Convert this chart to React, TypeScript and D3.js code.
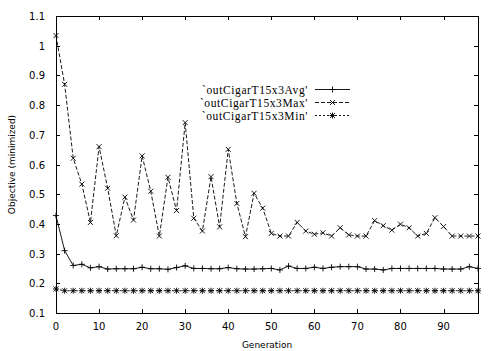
import { useEffect, useRef } from 'react';
import * as d3 from 'd3';

const generations = d3.range(0, 100, 2);

const avgValues = [
  0.428, 0.31, 0.26, 0.264, 0.252, 0.256, 0.248, 0.249, 0.249, 0.249,
  0.254, 0.249, 0.249, 0.247, 0.253, 0.259, 0.25, 0.25, 0.249, 0.249,
  0.253, 0.249, 0.248, 0.248, 0.249, 0.25, 0.245, 0.258, 0.25, 0.25,
  0.254, 0.25, 0.254, 0.256, 0.256, 0.256, 0.248, 0.248, 0.245, 0.25,
  0.25, 0.25, 0.25, 0.25, 0.25, 0.248, 0.248, 0.248, 0.256, 0.25,
];

const maxValues = [
  1.034, 0.87, 0.621, 0.534, 0.405, 0.66, 0.52, 0.36, 0.49, 0.413,
  0.629, 0.51, 0.359, 0.557, 0.445, 0.741, 0.419, 0.376, 0.559, 0.39,
  0.651, 0.469, 0.357, 0.503, 0.453, 0.368, 0.359, 0.359, 0.405, 0.376,
  0.365, 0.37, 0.359, 0.387, 0.363, 0.359, 0.359, 0.411, 0.394, 0.379,
  0.399, 0.387, 0.359, 0.368, 0.421, 0.391, 0.359, 0.359, 0.359, 0.359,
];

const minValues = [
  0.181, 0.175, 0.175, 0.175, 0.175, 0.175, 0.175, 0.175, 0.175, 0.175,
  0.175, 0.175, 0.175, 0.175, 0.175, 0.175, 0.175, 0.175, 0.175, 0.175,
  0.175, 0.175, 0.175, 0.175, 0.175, 0.175, 0.175, 0.175, 0.175, 0.175,
  0.175, 0.175, 0.175, 0.175, 0.175, 0.175, 0.175, 0.175, 0.175, 0.175,
  0.175, 0.175, 0.175, 0.175, 0.175, 0.175, 0.175, 0.175, 0.175, 0.175,
];

const seriesNames = ["`outCigarT15x3Avg'", "`outCigarT15x3Max'", "`outCigarT15x3Min'"];
const xTicks = [0, 10, 20, 30, 40, 50, 60, 70, 80, 90];
const yTicks = [0.1, 0.2, 0.3, 0.4, 0.5, 0.6, 0.7, 0.8, 0.9, 1, 1.1];

type Marker = 'plus' | 'cross' | 'star';

function markerPath(kind: Marker, x: number, y: number) {
  const p = 3;
  const c = 2.5;
  const plus = `M${x - p},${y}H${x + p}M${x},${y - p}V${y + p}`;
  const cross = `M${x - c},${y - c}L${x + c},${y + c}M${x - c},${y + c}L${x + c},${y - c}`;
  if (kind === 'plus') return plus;
  if (kind === 'cross') return cross;
  return plus + cross;
}

export default function App() {
  const svgRef = useRef<SVGSVGElement>(null);
  const width = 501;
  const height = 351;

  useEffect(() => {
    if (!svgRef.current) return;
    const svg = d3.select(svgRef.current);
    svg.selectAll('*').remove();

    const margin = { top: 16, right: 23, bottom: 38, left: 56 };
    const x = d3.scaleLinear().domain([0, 98]).range([margin.left, width - margin.right]);
    const y = d3.scaleLinear().domain([0.1, 1.1]).range([height - margin.bottom, margin.top]);
    const [x0, x1] = x.range();
    const [y0, y1] = y.range();
    const tickFont = 'DejaVu Sans, sans-serif';

    const series = [
      { name: seriesNames[0], values: avgValues, marker: 'plus' as Marker, dash: null },
      { name: seriesNames[1], values: maxValues, marker: 'cross' as Marker, dash: '4,2' },
      { name: seriesNames[2], values: minValues, marker: 'star' as Marker, dash: '2,2' },
    ];

    // ticks, mirrored inward on all sides like gnuplot
    const ticks = svg.append('g').attr('stroke', '#000').attr('stroke-width', 1);
    xTicks.forEach((t) => {
      const px = Math.round(x(t)) + 0.5;
      ticks.append('line').attr('x1', px).attr('x2', px).attr('y1', y0).attr('y2', y0 - 4);
      ticks.append('line').attr('x1', px).attr('x2', px).attr('y1', y1).attr('y2', y1 + 4);
    });
    yTicks.forEach((t) => {
      const py = Math.round(y(t)) + 0.5;
      ticks.append('line').attr('x1', x0).attr('x2', x0 + 4).attr('y1', py).attr('y2', py);
      ticks.append('line').attr('x1', x1).attr('x2', x1 - 4).attr('y1', py).attr('y2', py);
    });

    svg.append('rect')
      .attr('x', x0 + 0.5)
      .attr('y', y1 + 0.5)
      .attr('width', x1 - x0)
      .attr('height', y0 - y1)
      .attr('fill', 'none')
      .attr('stroke', '#000');

    svg.append('g')
      .selectAll('text')
      .data(xTicks)
      .join('text')
      .attr('x', (d) => x(d))
      .attr('y', y0 + 17)
      .attr('text-anchor', 'middle')
      .style('font-family', tickFont)
      .style('font-size', '10px')
      .text((d) => String(d));

    svg.append('g')
      .selectAll('text')
      .data(yTicks)
      .join('text')
      .attr('x', x0 - 11)
      .attr('y', (d) => y(d) + 4)
      .attr('text-anchor', 'end')
      .style('font-family', tickFont)
      .style('font-size', '10px')
      .text((d) => String(d));

    svg.append('text')
      .attr('x', (x0 + x1) / 2)
      .attr('y', 348)
      .attr('text-anchor', 'middle')
      .style('font-family', tickFont)
      .style('font-size', '9px')
      .text('Generation');

    svg.append('text')
      .attr('transform', `translate(15,${(y0 + y1) / 2}) rotate(-90)`)
      .attr('text-anchor', 'middle')
      .style('font-family', tickFont)
      .style('font-size', '9px')
      .text('Objective (minimized)');

    const line = d3.line<number>()
      .x((_, i) => x(generations[i]))
      .y((d) => y(d));

    series.forEach((s) => {
      svg.append('path')
        .datum(s.values)
        .attr('fill', 'none')
        .attr('stroke', '#000')
        .attr('stroke-width', 0.9)
        .attr('stroke-dasharray', s.dash)
        .attr('d', line);
      svg.append('path')
        .attr('fill', 'none')
        .attr('stroke', '#000')
        .attr('stroke-width', 0.9)
        .attr('d', s.values.map((v, i) => markerPath(s.marker, x(generations[i]), y(v))).join(''));
    });

    // legend
    const legend = svg.append('g');
    series.forEach((s, i) => {
      const ly = 89.5 + i * 13;
      legend.append('text')
        .attr('x', 308)
        .attr('y', ly + 4)
        .attr('text-anchor', 'end')
        .style('font-family', 'Liberation Serif, serif')
        .style('font-size', '11.5px')
        .style('letter-spacing', '0.6px')
        .text(s.name);
      legend.append('line')
        .attr('x1', 315)
        .attr('x2', 350)
        .attr('y1', ly)
        .attr('y2', ly)
        .attr('stroke', '#000')
        .attr('stroke-width', 0.9)
        .attr('stroke-dasharray', s.dash);
      legend.append('path')
        .attr('fill', 'none')
        .attr('stroke', '#000')
        .attr('stroke-width', 0.9)
        .attr('d', markerPath(s.marker, 332.5, ly));
    });
  }, []);

  return (
    <svg
      ref={svgRef}
      width={width}
      height={height}
      style={{ position: 'absolute', left: 0, top: 0, background: '#fff' }}
    />
  );
}
